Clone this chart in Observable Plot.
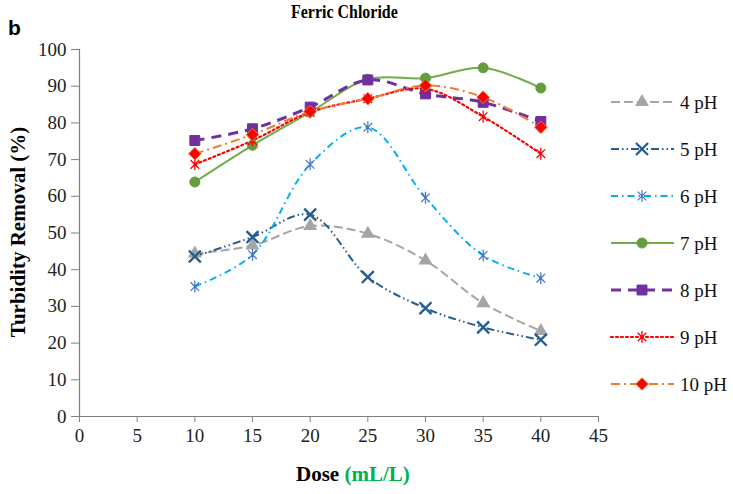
<!DOCTYPE html>
<html><head><meta charset="utf-8">
<script src="https://cdn.jsdelivr.net/npm/d3@7"></script>
<script src="https://cdn.jsdelivr.net/npm/@observablehq/plot@0.6"></script>
<style>
body{margin:0;background:#fff;}
#wrap{position:relative;width:733px;height:494px;font-family:"Liberation Serif","Times New Roman",serif;}
#wrap svg, #wrap svg text{font-family:"Liberation Serif","Times New Roman",serif !important;}
.t{position:absolute;white-space:nowrap;}
</style>
</head><body>
<div id="wrap"></div>
<script>
const doses = [10, 15, 20, 25, 30, 35, 40];
const ph4  = [44.4, 46.6, 51.9, 49.8, 42.5, 30.9, 23.3];
const ph5  = [43.6, 48.9, 55.0, 38.0, 29.5, 24.3, 20.9];
const ph6  = [35.4, 44.1, 68.7, 78.8, 59.6, 43.9, 37.7];
const ph7  = [63.9, 73.9, 82.9, 91.9, 92.2, 95.0, 89.5];
const ph8  = [75.2, 78.4, 84.3, 91.7, 87.9, 85.6, 80.4];
const ph9  = [68.7, 75.2, 82.9, 86.6, 89.3, 81.7, 71.6];
const ph10 = [71.6, 76.8, 83.1, 86.6, 90.2, 87.0, 78.8];
const seriesNames = ["4 pH", "5 pH", "6 pH", "7 pH", "8 pH", "9 pH", "10 pH"];
const seriesValues = [ph4, ph5, ph6, ph7, ph8, ph9, ph10];
const xTicks = [0, 5, 10, 15, 20, 25, 30, 35, 40, 45];
const yTicks = [0, 10, 20, 30, 40, 50, 60, 70, 80, 90, 100];

// custom asterisk: X with vertical line
const starSymbol = {
  draw(ctx, size) {
    const r = Math.sqrt(size / Math.PI);
    const d = r * 0.72;
    ctx.moveTo(-d, -d); ctx.lineTo(d, d);
    ctx.moveTo(-d, d); ctx.lineTo(d, -d);
    ctx.moveTo(0, -r); ctx.lineTo(0, r);
  }
};
// square diamond
const diamondSymbol = {
  draw(ctx, size) {
    const r = Math.sqrt(size / Math.PI);
    ctx.moveTo(0, -r); ctx.lineTo(r, 0); ctx.lineTo(0, r); ctx.lineTo(-r, 0); ctx.closePath();
  }
};

const styles = [
  {line:"#a5a5a5", dash:"9,4", w:2, sym:"triangle", fill:"#a5a5a5", stroke:"none", r:5.2, sw:0},
  {line:"#255e91", dash:"8,3,1.5,3,1.5,3", w:2, sym:"times", fill:"none", stroke:"#255e91", r:5.5, sw:2.4},
  {line:"#00b0f0", dash:"7,4,1.5,4", w:2, sym:starSymbol, fill:"none", stroke:"#4472c4", r:6, sw:1.2},
  {line:"#70ad47", dash:null, w:2, sym:"circle", fill:"#659c40", stroke:"#659c40", r:5, sw:1},
  {line:"#7030a0", dash:"10,7", w:3, sym:"square", fill:"#7030a0", stroke:"#7030a0", r:5.6, sw:1},
  {line:"#ff0000", dash:"2,3", w:2.2, sym:starSymbol, fill:"none", stroke:"#ff0000", r:6, sw:1.3},
  {line:"#ed7d31", dash:"9,4,2,4", w:2, sym:diamondSymbol, fill:"#ff0000", stroke:"#ed7d31", r:6.3, sw:1}
];

const rows = [];
seriesNames.forEach((name, i) => {
  doses.forEach((d, j) => rows.push({series: name, dose: d, value: seriesValues[i][j], idx: i}));
});

const marks = [
  Plot.ruleY([0], {x1: 0, x2: 45, stroke: "#7f7f7f", strokeWidth: 1.2}),
  Plot.ruleX([0], {y1: 0, y2: 100, stroke: "#7f7f7f", strokeWidth: 1.2}),
  Plot.axisX({ticks: xTicks, tickSize: 6, tickPadding: 6, stroke: "#7f7f7f", fill: "#222", fontSize: 19, label: null, tickFormat: d => d}),
  Plot.axisY({ticks: yTicks, tickSize: 8, tickPadding: 5, stroke: "#7f7f7f", fill: "#222", fontSize: 19, label: null, tickFormat: d => d})
];
seriesNames.forEach((name, i) => {
  const s = styles[i];
  const data = rows.filter(r => r.idx === i);
  marks.push(Plot.line(data, {x: "dose", y: "value", stroke: s.line, strokeWidth: s.w, strokeDasharray: s.dash || undefined, curve: "catmull-rom", strokeLinecap: i===5 ? "round" : "butt"}));
});
seriesNames.forEach((name, i) => {
  const s = styles[i];
  const data = rows.filter(r => r.idx === i);
  marks.push(Plot.dot(data, {x: "dose", y: "value", symbol: () => s.sym, r: s.r, fill: s.fill, stroke: s.stroke, strokeWidth: s.sw}));
});

const chart = Plot.plot({
  width: 733, height: 494,
  marginLeft: 79, marginRight: 135, marginTop: 49, marginBottom: 78,
  x: {domain: [0, 45]},
  y: {domain: [0, 100]},
  symbol: {type: "identity"},
  style: {fontFamily: "'Liberation Serif','Times New Roman',serif", background: "#fff"},
  marks
});
const wrap = document.getElementById("wrap");
wrap.appendChild(chart);

// legend drawn with d3 into the same svg
const svg = d3.select(chart);
const lg = svg.append("g").attr("text-anchor", "start");
const legendTop = 102, legendStep = 47;
seriesNames.forEach((name, i) => {
  const s = styles[i];
  const y = legendTop + i * legendStep;
  lg.append("line").attr("x1", 611).attr("x2", 674).attr("y1", y).attr("y2", y)
    .attr("stroke", s.line).attr("stroke-width", s.w)
    .attr("stroke-dasharray", s.dash).attr("stroke-linecap", i===5 ? "round" : "butt");
  const symType = typeof s.sym === "string" ? ({triangle: d3.symbolTriangle, times: d3.symbolTimes, circle: d3.symbolCircle, square: d3.symbolSquare})[s.sym] : s.sym;
  lg.append("path").attr("transform", `translate(642,${y})`)
    .attr("d", d3.symbol(symType, Math.PI * s.r * s.r)())
    .attr("fill", s.fill).attr("stroke", s.stroke).attr("stroke-width", s.sw);
  lg.append("text").attr("x", 680).attr("y", y).attr("dy", "0.35em")
    .attr("text-anchor", "start")
    .attr("font-size", 19).attr("fill", "#111").text(name);
});

function addText(html, css) {
  const d = document.createElement("div");
  d.className = "t"; d.innerHTML = html; Object.assign(d.style, css); wrap.appendChild(d);
  return d;
}
addText("Ferric Chloride", {left: "291px", top: "1px", fontWeight: "bold", fontSize: "19px", transform: "scaleX(0.84)", transformOrigin: "left top"});
addText("b", {left: "8px", top: "16px", fontFamily: "'Liberation Sans',Arial,sans-serif", fontWeight: "bold", fontSize: "21px"});
addText("Dose <span style='color:#00b050'>(mL/L)</span>", {left: "296px", top: "462px", fontWeight: "bold", fontSize: "21px"});
addText("Turbidity Removal (%)", {left: "18px", top: "232px", fontWeight: "bold", fontSize: "21px", transform: "translate(-50%,-50%) rotate(-90deg)"});
</script>
</body></html>
